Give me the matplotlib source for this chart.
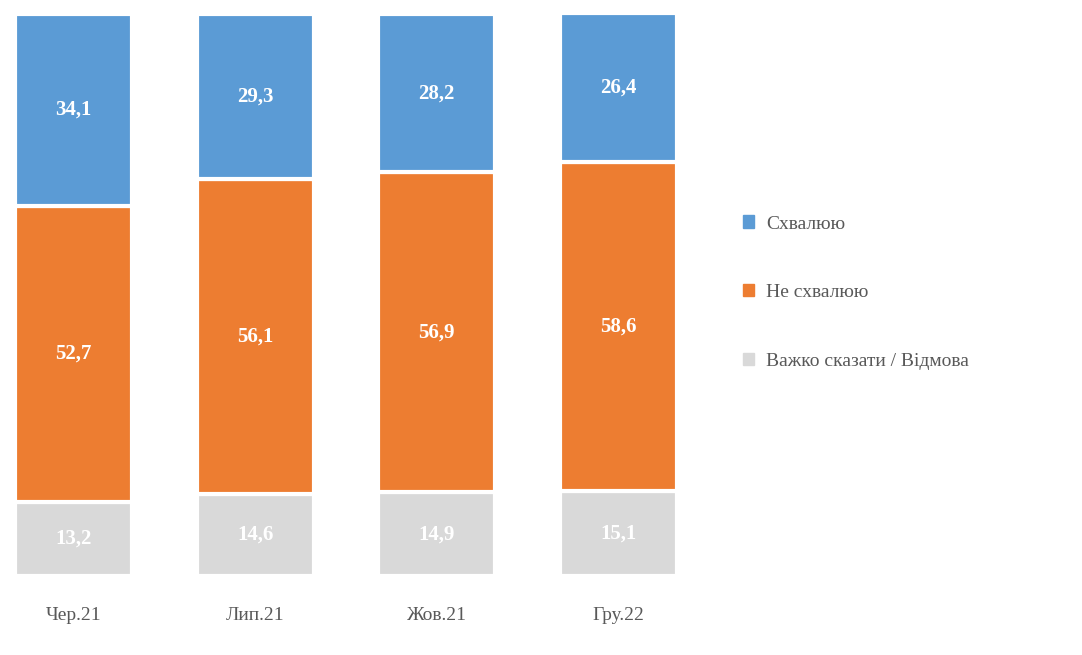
import matplotlib
matplotlib.use("Agg")
import matplotlib.pyplot as plt
from matplotlib.patches import Patch

categories = ["Чер.21", "Лип.21", "Жов.21", "Гру.22"]
approve = [34.1, 29.3, 28.2, 26.4]
disapprove = [52.7, 56.1, 56.9, 58.6]
hard = [13.2, 14.6, 14.9, 15.1]
series_names = ["Схвалюю", "Не схвалюю", "Важко сказати / Відмова"]

plt.rcParams["font.family"] = "Liberation Serif"
fig = plt.figure(figsize=(10.82, 6.55), dpi=100)
ax = fig.add_axes([0, 79/655, 700/1082, 562/655])
x = list(range(len(categories)))
w = 117/181.5
colors = ["#5B9BD5", "#ED7D31", "#D9D9D9"]
bottoms = [0]*4
for vals, c in [(hard, colors[2]), (disapprove, colors[1]), (approve, colors[0])]:
    bars = ax.bar(x, vals, w, bottom=bottoms, color=c, edgecolor="white", linewidth=3)
    for xi, b, v in zip(x, bottoms, vals):
        ax.text(xi, b + v/2, f"{v:.1f}".replace(".", ","), ha="center", va="center",
                color="white", fontsize=15, fontweight="bold")
    bottoms = [b + v for b, v in zip(bottoms, vals)]
ax.set_xlim(-73.5/181.5, 3 + (700-618.5)/181.5)
ax.set_ylim(0, 100)
ax.set_yticks([])
ax.set_xticks(x)
ax.set_xticklabels(categories, fontsize=14, color="#595959")
ax.tick_params(axis="x", length=0, pad=22)
for s in ax.spines.values():
    s.set_visible(False)

handles = [Patch(color=c) for c in colors]
fig.legend(handles, series_names, loc="upper left", bbox_to_anchor=(725/1082, 1-198/655),
           frameon=False, fontsize=14, handlelength=0.6, handleheight=0.6,
           handletextpad=0.6, labelspacing=2.65, labelcolor="#595959")
fig.savefig("out.png", dpi=100)
